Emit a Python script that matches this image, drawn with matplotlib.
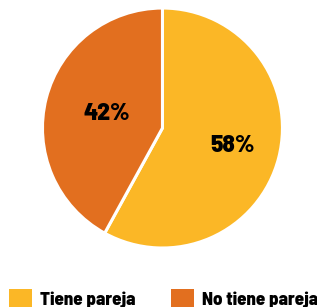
import matplotlib.pyplot as plt
from matplotlib.patches import Patch
from matplotlib import font_manager

# data
labels = ['Tiene pareja', 'No tiene pareja']
values = [58, 42]
colors = ['#FBB726', '#E26F1F']

# condensed bold font if there is one, else DejaVu
names = {f.name for f in font_manager.fontManager.ttflist}
fam = [n for n in ['Barlow Semi Condensed', 'Asap Condensed'] if n in names] + ['DejaVu Sans']
plt.rcParams['font.family'] = fam

fig = plt.figure(figsize=(3.17, 3.07), dpi=100)
ax = fig.add_axes([0.134, 0.192, 0.757, 0.782])

wedges, texts, autotexts = ax.pie(values, colors=colors, startangle=90, counterclock=False,
                                  autopct='%d%%', pctdistance=0.6,
                                  wedgeprops=dict(edgecolor='white', linewidth=2.2),
                                  textprops=dict(fontsize=18, fontweight=800, color='black'))
# pull the smaller label a bit toward the center
x, y = autotexts[1].get_position()
autotexts[1].set_position((x * 0.8, y * 0.8))
ax.set_xlim(-1, 1)
ax.set_ylim(-1, 1)
ax.set_aspect('equal')

handles = [Patch(facecolor=c, edgecolor='none') for c in colors]
fig.legend(handles, labels, loc='lower left', bbox_to_anchor=(-0.008, -0.042), ncol=2, frameon=False,
           prop=dict(size=13.5, weight=800), handlelength=1.25, handleheight=1.25,
           handletextpad=0.4, columnspacing=1.9, borderaxespad=0.2)

fig.savefig('out.png', dpi=100)
